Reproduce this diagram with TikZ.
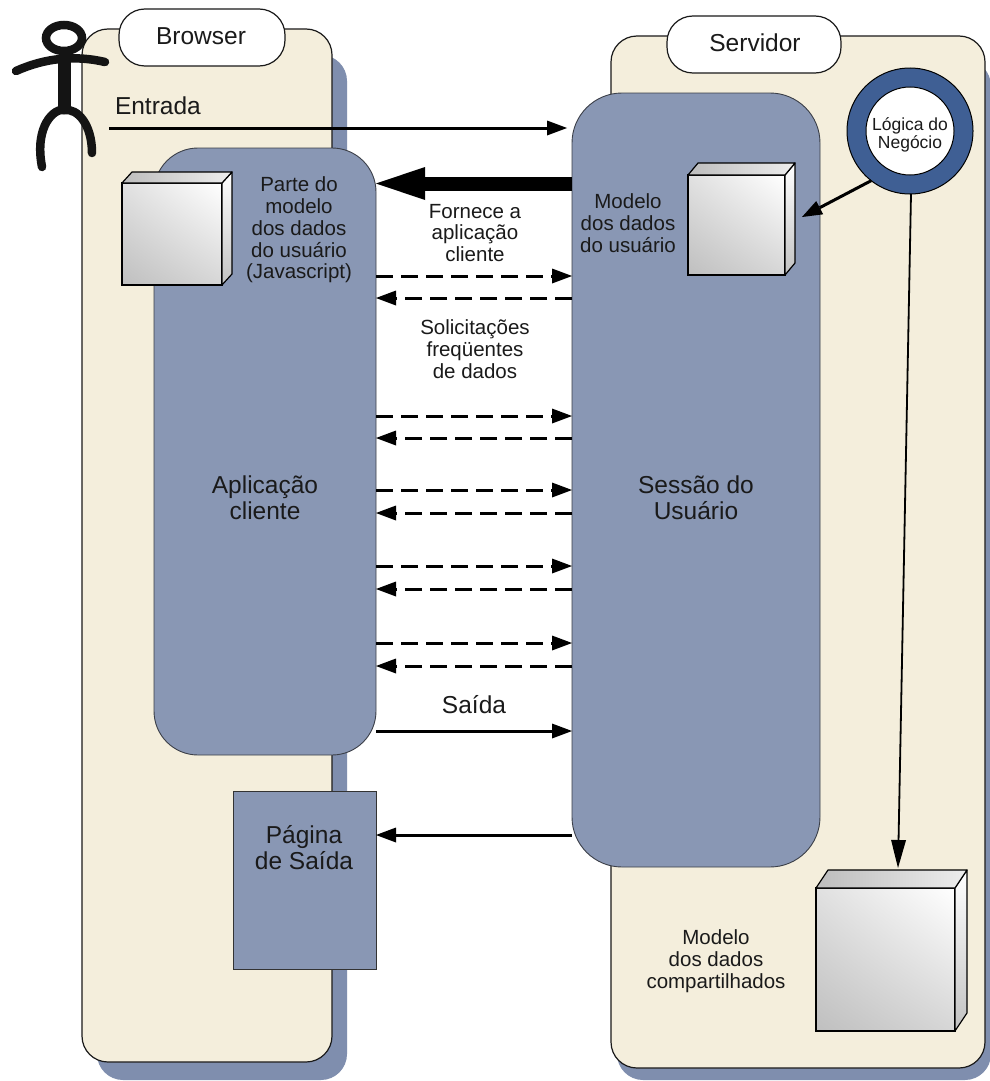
\documentclass[tikz,border=0pt]{standalone}
\usepackage{fontspec}
\setmainfont{Liberation Sans}
\usetikzlibrary{arrows.meta,shadings}
\definecolor{panelc}{HTML}{F4EEDC}
\definecolor{blueb}{HTML}{8997B4}
\definecolor{shadowc}{HTML}{7F8EAE}
\definecolor{ringc}{HTML}{3F5F94}
\definecolor{inkc}{HTML}{1A1A1A}
\tikzset{
  panel/.style={draw=inkc,line width=1.2pt,fill=panelc,rounded corners=26pt,inner sep=0pt,outer sep=0pt},
  shadowbox/.style={fill=shadowc,rounded corners=26pt,inner sep=0pt,outer sep=0pt},
  tab/.style={draw=inkc,line width=1.2pt,fill=white,rounded corners=26pt,inner sep=0pt,outer sep=0pt},
  bluebox/.style={draw=inkc!70!blueb,line width=0.9pt,fill=blueb,inner sep=0pt,outer sep=0pt},
  lab/.style={inner sep=0pt,outer sep=0pt,align=center,text=inkc},
  big/.style={lab,font=\fontsize{24.5}{26}\selectfont},
  small/.style={lab,font=\fontsize{20.5}{21.7}\selectfont},
  tiny/.style={lab,font=\fontsize{17.5}{18}\selectfont},
  flow/.style={draw=black,line width=3pt,-{Triangle[length=20pt,width=15pt,line width=0pt]}},
  dflow/.style={flow,dash pattern=on 17pt off 8pt},
  frontface/.style={draw=black,line width=1.3pt,inner sep=0pt,outer sep=0pt,
    lower left=black!25,upper left=black!12,lower right=black!16,upper right=white},
  sideface/.style={draw=black,line width=1.2pt,line join=round,top color=white,bottom color=black!24},
  topface/.style={draw=black,line width=1.2pt,line join=round,left color=black!26,right color=black!7},
  actor/.style={draw=black!92,line width=8.5pt,line cap=round,fill=none},
}
\newcommand{\cubeparts}[3]{% name, dx, dy
  \shadedraw[sideface] (#1.north east) -- ++(#2,-#3) -- ([shift={(#2,-#3)}]#1.south east) -- (#1.south east) -- cycle;
  \shadedraw[topface] (#1.north west) -- ++(#2,-#3) -- ([shift={(#2,-#3)}]#1.north east) -- (#1.north east) -- cycle;
}
\begin{document}
\begin{tikzpicture}[x=1pt,y=-1pt]
\useasboundingbox (0,0) rectangle (989,1081);
\fill[white] (0,0) rectangle (989,1081);
% shadows
\node[shadowbox,minimum width=250pt,minimum height=1025pt] (bshadow) at (222,567.5) {};
\node[shadowbox,minimum width=374pt,minimum height=1020pt] (sshadow) at (804,570) {};
% panels
\node[panel,minimum width=250pt,minimum height=1033pt] (browser) at (207,545.5) {};
\node[panel,minimum width=374pt,minimum height=1032pt] (server) at (798,552) {};
\node[tab,minimum width=166pt,minimum height=57pt] (btab) at (202,37.5) {};
\node[big] (btext) at (201,36) {Browser};
\node[tab,minimum width=174pt,minimum height=57pt] (stab) at (754,44.5) {};
\node[big] (stext) at (755,43) {Servidor};
% blue blocks
\node[bluebox,rounded corners=44pt,minimum width=222pt,minimum height=607pt] (app) at (265,451.5) {};
\node[bluebox,rounded corners=50pt,minimum width=248pt,minimum height=774pt] (sess) at (696,480) {};
\node[bluebox,draw=black!80,minimum width=143pt,minimum height=178pt] (page) at (304.5,880) {};
\node[big] (apptext) at (265,498) {Aplicação\\cliente};
\node[big] (sesstext) at (696,498) {Sessão do\\Usuário};
\node[big] (pagetext) at (304,848) {Página\\de Saída};
% actor
\draw[actor] (64,38) ellipse (18pt and 13pt);
\draw[actor] (16,71) .. controls (45,58) and (75,55) .. (105,62);
\draw[actor,line width=13pt,line cap=butt] (64,60) -- (64,108);
\draw[actor] (42,167) .. controls (34,125) and (55,108) .. (64,110);
\draw[actor] (64,110) .. controls (78,108) and (92,125) .. (92,153);
% cubes
\node[shade,frontface,minimum width=100pt,minimum height=102pt] (cubea) at (172,234) {};
\cubeparts{cubea}{10}{11}
\node[shade,frontface,minimum width=97pt,minimum height=100pt] (cubeb) at (736.5,225) {};
\cubeparts{cubeb}{10}{12}
\node[shade,frontface,minimum width=139pt,minimum height=143pt] (cubec) at (885.5,959.5) {};
\cubeparts{cubec}{12}{18}
% logic ring
\node[circle,draw=black,line width=1pt,fill=ringc,minimum size=126pt,inner sep=0pt,outer sep=0pt] (ring) at (910,131) {};
\node[circle,draw=black,line width=1pt,fill=white,minimum size=88pt,inner sep=0pt,outer sep=0pt] (core) at (910,131) {};
\node[tiny] (ctext) at (910,135) {Lógica do\\Negócio};
% labels
\node[big,anchor=west] (entrada) at (115,106) {Entrada};
\node[small] (parte) at (299,230) {Parte do\\modelo\\dos dados\\do usuário\\(Javascript)};
\node[small] (modelo) at (628,223) {Modelo\\dos dados\\do usuário};
\node[small] (fornece) at (475,233) {Fornece a\\aplicação\\cliente};
\node[small] (solic) at (475,349) {Solicitações\\freqüentes\\de dados};
\node[big] (saida) at (474,705) {Saída};
\node[small] (shared) at (716,961) {Modelo\\dos dados\\compartilhados};
% connectors
\coordinate (actorhand) at (109,128);
\draw[flow,shorten >=5pt] (actorhand) -- (sess.west |- actorhand);
\draw[draw=black,line width=14pt,-{Triangle[length=49pt,width=33pt,line width=0pt]}] (sess.west |- 0,183.5) -- (app.east |- 0,183.5);
\foreach \ya/\yb in {276/298,416/438,490/513,566/589,643/666}{
  \draw[dflow] (app.east |- 0,\ya) -- (sess.west |- 0,\ya);
  \draw[dflow] (sess.west |- 0,\yb) -- (app.east |- 0,\yb);
}
\draw[flow] (app.east |- 0,731) -- (sess.west |- 0,731);
\draw[flow] (sess.west |- 0,835) -- (page.east |- 0,835);
\coordinate (cubebside) at (802,217);
\draw[flow] (ring.232) -- (cubebside);
\coordinate (cubectop) at (898,868);
\draw[draw=black,line width=1.8pt,-{Triangle[length=28pt,width=15pt,line width=0pt]}] (ring.south) ++(1,0) -- (cubectop);
\end{tikzpicture}
\end{document}
